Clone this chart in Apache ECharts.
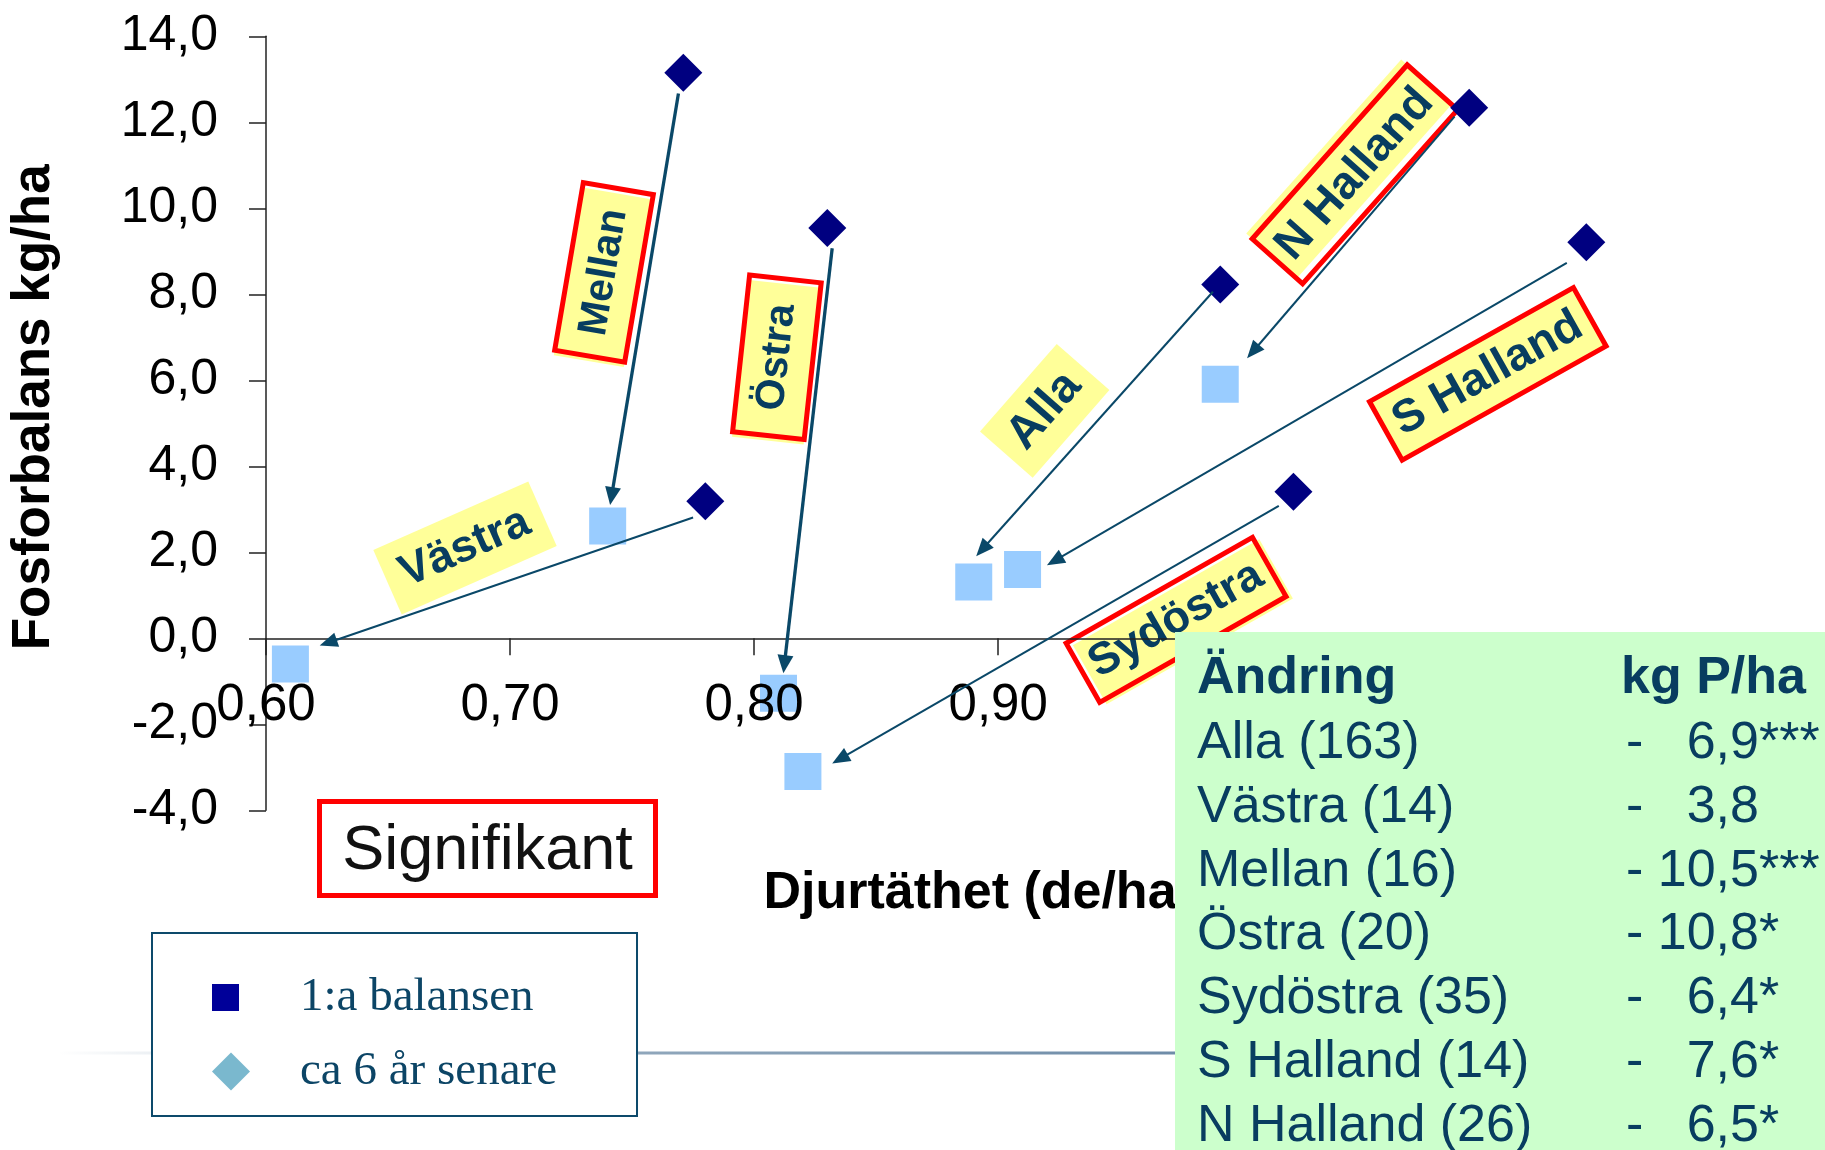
<!DOCTYPE html>
<html>
<head>
<meta charset="utf-8">
<script src="https://cdn.jsdelivr.net/npm/echarts@6/dist/echarts.min.js"></script>
<style>
html,body{margin:0;padding:0;background:#fff;}
#chart{width:1825px;height:1150px;}
</style>
</head>
<body>
<div id="chart"></div>
<script>
// ---------- data ----------
const regions   = ['Alla', 'Västra', 'Mellan', 'Östra', 'Sydöstra', 'S Halland', 'N Halland'];
const counts    = [163, 14, 16, 20, 35, 14, 26];
// first balance (x = djurtäthet, y = fosforbalans)
const density1  = [0.991, 0.780, 0.771, 0.830, 1.021, 1.141, 1.093];
const balance1  = [8.23, 3.19, 13.15, 9.54, 3.41, 9.21, 12.34];
// about 6 years later
const density2  = [0.890, 0.610, 0.740, 0.810, 0.820, 0.910, 0.991];
const balance2  = [1.31, -0.60, 2.61, -1.28, -3.10, 1.60, 5.91];
// change table
const changeKg  = [6.9, 3.8, 10.5, 10.8, 6.4, 7.6, 6.5];
const changeSig = ['***', '', '***', '*', '*', '*', '*'];
// hand-drawn arrows (data units)
const arrowFromX = [0.988, 0.775, 0.769, 0.832, 1.015, 1.133, 1.087];
const arrowFromY = [8.06, 2.81, 12.67, 9.07, 3.08, 8.73, 12.13];
const arrowToX   = [0.891, 0.622, 0.741, 0.812, 0.832, 0.920, 1.002];
const arrowToY   = [1.91, -0.17, 3.10, -0.81, -2.91, 1.70, 6.51];
// axis ticks
const xTicks = ['0,60', '0,70', '0,80', '0,90', '1,00', '1,10', '1,20'];
const yTicks = ['-4,0', '-2,0', '0,0', '2,0', '4,0', '6,0', '8,0', '10,0', '12,0', '14,0'];
const seriesNames = ['1:a balansen', 'ca 6 år senare'];

// ---------- styles / layout ----------
const FONT = '"Liberation Sans", Arial, sans-serif';
const SERIF = '"Liberation Serif", "Times New Roman", serif';
const TEAL = '#083d60';
const ARROW = '#0a4868';
const thickArrows = ['Mellan', 'Östra'];
const labelLayout = {
  'Mellan':    {cx: 604,   cy: 272.4, w: 175,   h: 76,   rot: 80.3, border: true,  size: 41, fx: -5, fy: 0},
  'Östra':     {cx: 776.9, cy: 357.3, w: 162.6, h: 77,   rot: 83.8, border: true,  size: 41, fx: -5, fy: 0},
  'Alla':      {cx: 1044.7,cy: 410.8, w: 116.5, h: 70,   rot: 48.8, border: false, size: 47},
  'Västra':    {cx: 465,   cy: 548,   w: 169.4, h: 70.4, rot: 23.8, border: false, size: 45},
  'N Halland': {cx: 1354.9,cy: 174.3, w: 238,   h: 72.5, rot: 48.3, border: true,  size: 46, fx: 0, fy: -8},
  'S Halland': {cx: 1487.8,cy: 373.9, w: 238.6, h: 72,   rot: 29.2, border: true,  size: 46, fx: 0, fy: 0},
  'Sydöstra':  {cx: 1176.1,cy: 619.9, w: 219.3, h: 73,   rot: 29.6, border: true,  size: 45, fx: 5, fy: 5}
};
const GRID = {left: 264.5, top: 36.3, right: 94.7, bottom: 339.7};
const ZERO_OFFSET = -172; // x-axis drawn at y = 0 (grid bottom is y = -4)

function fmtNum(v, d) { return v.toFixed(d).replace('.', ','); }

const chart = echarts.init(document.getElementById('chart'), null, {renderer: 'canvas'});

// ---------- graphic elements ----------
const graphics = [];
// decorative slide line
graphics.push({
  type: 'line', z: 1,
  shape: {x1: 60, y1: 1053, x2: 1176, y2: 1053},
  style: {
    lineWidth: 3,
    stroke: new echarts.graphic.LinearGradient(0, 0, 1, 0, [
      {offset: 0, color: 'rgba(125,152,176,0)'},
      {offset: 0.5, color: 'rgba(125,152,176,0.85)'},
      {offset: 1, color: 'rgba(110,140,168,1)'}
    ])
  }
});
// Signifikant box
graphics.push({
  type: 'rect', z: 50,
  shape: {x: 319.5, y: 801.5, width: 336, height: 94},
  style: {fill: '#fff', stroke: '#ff0000', lineWidth: 5}
});
graphics.push({
  type: 'text', z: 51,
  style: {text: 'Signifikant', x: 487.5, y: 851.5, align: 'center', verticalAlign: 'middle',
          font: '63px ' + FONT, fill: '#111'}
});
// region labels
regions.forEach(function (r) {
  const L = labelLayout[r];
  const children = [];
  if (L.border) {
    children.push({type: 'rect', shape: {x: -(L.w - 5) / 2 + (L.fx || 0), y: -(L.h - 5) / 2 + (L.fy || 0), width: L.w - 5, height: L.h - 5},
                   style: {fill: '#ffff99'}});
    children.push({type: 'rect', shape: {x: -(L.w - 5) / 2, y: -(L.h - 5) / 2, width: L.w - 5, height: L.h - 5},
                   style: {fill: 'rgba(0,0,0,0)', stroke: '#ff0000', lineWidth: 5}});
  } else {
    children.push({type: 'rect', shape: {x: -L.w / 2, y: -L.h / 2, width: L.w, height: L.h},
                   style: {fill: '#ffff99'}});
  }
  children.push({type: 'text', style: {text: r, x: 0, y: 0, align: 'center', verticalAlign: 'middle',
                 font: 'bold ' + L.size + 'px ' + FONT, fill: TEAL}});
  graphics.push({type: 'group', x: L.cx, y: L.cy, rotation: L.rot * Math.PI / 180, z: 60, children: children});
});
// change table
graphics.push({type: 'rect', z: 55, shape: {x: 1175, y: 632, width: 650, height: 518}, style: {fill: '#ccffcc'}});
graphics.push({type: 'text', z: 56, style: {text: 'Ändring', x: 1197, y: 679, align: 'left', verticalAlign: 'middle',
               font: 'bold 52px ' + FONT, fill: TEAL}});
graphics.push({type: 'text', z: 56, style: {text: 'kg P/ha', x: 1621, y: 679, align: 'left', verticalAlign: 'middle',
               font: 'bold 52px ' + FONT, fill: TEAL}});
regions.forEach(function (r, i) {
  const y = 744 + i * 63.7;
  graphics.push({type: 'text', z: 56, style: {text: r + ' (' + counts[i] + ')', x: 1197, y: y, align: 'left',
                 verticalAlign: 'middle', font: '52px ' + FONT, fill: TEAL}});
  const val = '-' + (changeKg[i] >= 10 ? ' ' : '   ') + fmtNum(changeKg[i], 1) + changeSig[i];
  graphics.push({type: 'text', z: 56, style: {text: val, x: 1626, y: y, align: 'left',
                 verticalAlign: 'middle', font: '52px ' + FONT, fill: TEAL}});
});

// ---------- option ----------
const option = {
  animation: false,
  backgroundColor: '#fff',
  grid: {left: GRID.left, top: GRID.top, right: GRID.right, bottom: GRID.bottom, containLabel: false},
  xAxis: {
    type: 'value', min: 0.6, max: 1.2, interval: 0.1, z: 3,
    position: 'bottom', offset: ZERO_OFFSET,
    name: 'Djurtäthet (de/ha)', nameLocation: 'middle', nameGap: 229,
    nameTextStyle: {fontFamily: FONT, fontWeight: 'bold', fontSize: 52, color: '#000', padding: [0, 39, 0, 0]},
    axisLine: {onZero: false, lineStyle: {color: '#222', width: 1.5}},
    axisTick: {show: true, length: 17, lineStyle: {color: '#222', width: 1.5}},
    axisLabel: {margin: 42, fontFamily: FONT, fontSize: 51, color: '#000', hideOverlap: false,
                formatter: function (v) { return xTicks[Math.round((v - 0.6) * 10)]; }},
    splitLine: {show: false}
  },
  yAxis: {
    type: 'value', min: -4, max: 14, interval: 2,
    name: 'Fosforbalans kg/ha', nameLocation: 'middle', nameGap: 205, nameRotate: 90,
    nameTextStyle: {fontFamily: FONT, fontWeight: 'bold', fontSize: 53, color: '#000', padding: [0, 0, 0, 32]},
    axisLine: {show: true, onZero: false, lineStyle: {color: '#222', width: 1.5}},
    axisTick: {show: true, length: 17, lineStyle: {color: '#222', width: 1.5}},
    axisLabel: {margin: 48, fontFamily: FONT, fontSize: 50, color: '#000', hideOverlap: false,
                formatter: function (v) { return yTicks[Math.round((v + 4) / 2)]; }},
    splitLine: {show: false}
  },
  legend: {
    orient: 'vertical', left: 152, top: 933, selectedMode: false,
    data: [
      {name: seriesNames[0], icon: 'path://M0,0M38,46M0,9.5L27,9.5L27,36.5L0,36.5Z', itemStyle: {color: '#000099'}},
      {name: seriesNames[1], icon: 'path://M0,0M38,46M0,23L19,4L38,23L19,42Z', itemStyle: {color: '#7ab8ce'}}
    ],
    itemWidth: 38, itemHeight: 46, itemGap: 27,
    padding: [41, 80, 21, 60],
    borderColor: '#0d4a6b', borderWidth: 2, backgroundColor: '#fff',
    textStyle: {fontFamily: SERIF, fontSize: 47, color: '#0c4566', padding: [0, 0, 0, 45]}
  },
  series: [
    {
      name: seriesNames[0], type: 'scatter', symbol: 'diamond', symbolSize: 38, z: 2,
      itemStyle: {color: '#000080', opacity: 1},
      data: density1.map(function (x, i) { return [x, balance1[i]]; })
    },
    {
      name: seriesNames[1], type: 'scatter', symbol: 'rect', symbolSize: 37, z: 2,
      itemStyle: {color: '#99ccff', opacity: 1},
      data: density2.map(function (x, i) { return [x, balance2[i]]; })
    },
    {
      name: 'pilar', type: 'custom', z: 4, clip: false, silent: true,
      encode: {x: [0, 2], y: [1, 3]},
      data: regions.map(function (r, i) { return [arrowFromX[i], arrowFromY[i], arrowToX[i], arrowToY[i]]; }),
      renderItem: function (params, api) {
        const p1 = api.coord([api.value(0), api.value(1)]);
        const p2 = api.coord([api.value(2), api.value(3)]);
        const thick = thickArrows.indexOf(regions[params.dataIndex]) >= 0;
        const lw = thick ? 3.3 : 2;
        const dx = p2[0] - p1[0], dy = p2[1] - p1[1];
        const len = Math.sqrt(dx * dx + dy * dy);
        const ux = dx / len, uy = dy / len;
        const L = 18, H = thick ? 8 : 7.5;
        const bx = p2[0] - ux * L, by = p2[1] - uy * L;
        const nx = -uy, ny = ux;
        return {
          type: 'group',
          children: [
            {type: 'line', shape: {x1: p1[0], y1: p1[1], x2: bx + ux * 3, y2: by + uy * 3},
             style: {stroke: ARROW, lineWidth: lw}},
            {type: 'polygon', shape: {points: [[p2[0], p2[1]], [bx + nx * H, by + ny * H], [bx - nx * H, by - ny * H]]},
             style: {fill: ARROW}}
          ]
        };
      }
    }
  ],
  graphic: graphics
};
chart.setOption(option);
</script>
</body>
</html>
